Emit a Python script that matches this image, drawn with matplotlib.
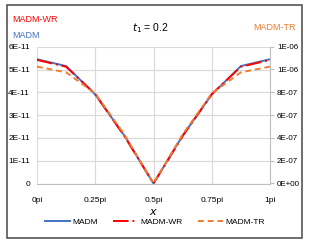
import matplotlib
matplotlib.use("Agg")
from matplotlib import pyplot as plt
from matplotlib.patches import Rectangle
from matplotlib.ticker import FuncFormatter

# x in units of pi
x_pos = [0, 0.125, 0.25, 0.375, 0.5, 0.625, 0.75, 0.875, 1.0]
madm = [5.45e-11, 5.15e-11, 3.9e-11, 2.1e-11, 0, 2.1e-11, 3.9e-11, 5.15e-11, 5.45e-11]
madm_wr = [5.42e-11, 5.12e-11, 3.92e-11, 2.08e-11, 0, 2.08e-11, 3.92e-11, 5.12e-11, 5.42e-11]
madm_tr = [1.025e-6, 0.975e-6, 0.79e-6, 0.43e-6, 0, 0.43e-6, 0.79e-6, 0.975e-6, 1.025e-6]
x_ticks = [0, 0.25, 0.5, 0.75, 1.0]
x_labels = ["0pi", "0.25pi", "0.5pi", "0.75pi", "1pi"]

BLUE = "#4472C4"
RED = "#FF0000"
ORANGE = "#ED7D31"

plt.rcParams["font.family"] = ["Liberation Sans", "DejaVu Sans"]
plt.rcParams["font.size"] = 6

fig = plt.figure(figsize=(3.10, 2.46), dpi=100)
fig.patches.append(Rectangle((7 / 310, 1 - 238 / 246), 295 / 310, 233 / 246,
                             transform=fig.transFigure, fill=False,
                             edgecolor="#555555", linewidth=1.2))

ax = fig.add_axes([37 / 310, 1 - 183.5 / 246, 233 / 310, 136.8 / 246])
ax2 = ax.twinx()

l1, = ax.plot(x_pos, madm, color=BLUE, lw=1.4, label="MADM")
l2, = ax.plot(x_pos, madm_wr, color=RED, lw=1.4, dashes=(8, 2, 1, 2), label="MADM-WR")
l3, = ax2.plot(x_pos, madm_tr, color=ORANGE, lw=1.4, dashes=(3, 2), label="MADM-TR")

ax.set_xlim(0, 1)
ax.set_ylim(0, 6e-11)
ax.set_yticks([i * 1e-11 for i in range(7)])
ax2.set_ylim(0, 1.2e-6)
ax2.set_yticks([i * 2e-7 for i in range(7)])
ax.set_xticks(x_ticks)
ax.set_xticklabels(x_labels)

ax.yaxis.set_major_formatter(FuncFormatter(lambda v, p: "0" if v == 0 else "{:.0E}".format(v)))
ax2.yaxis.set_major_formatter(FuncFormatter(lambda v, p: "{:.0E}".format(v)))

ax.grid(True, color="#D9D9D9", lw=0.8)
for a in (ax, ax2):
    for s in a.spines.values():
        s.set_visible(False)
ax.spines["bottom"].set_visible(True)
ax.spines["bottom"].set_color("#BFBFBF")
ax2.spines["right"].set_visible(True)
ax2.spines["right"].set_color("#BFBFBF")

ax.tick_params(axis="y", length=0, pad=5, labelsize=6)
ax.tick_params(axis="x", length=0, pad=10, labelsize=6)
ax2.tick_params(axis="y", length=3, color="#BFBFBF", pad=2, labelsize=5.8)

fig.text(153 / 310, 1 - 212 / 246, "$x$", ha="center", va="center", fontsize=8, family="DejaVu Serif")
fig.text(150 / 310, 1 - 28 / 246, "$t_1$ = 0.2", ha="center", va="center", fontsize=7.5)
fig.text(12 / 310, 1 - 19 / 246, "MADM-WR", color=RED, ha="left", va="center", fontsize=6.5)
fig.text(12 / 310, 1 - 35 / 246, "MADM", color=BLUE, ha="left", va="center", fontsize=6.5)
fig.text(296 / 310, 1 - 27 / 246, "MADM-TR", color=ORANGE, ha="right", va="center", fontsize=6.5)

fig.legend([l1, l2, l3], ["MADM", "MADM-WR", "MADM-TR"], loc="center",
           bbox_to_anchor=(155 / 310, 1 - 222 / 246), ncol=3, frameon=False,
           fontsize=6, handlelength=3, columnspacing=1.8, handletextpad=0.3)

fig.savefig("out.png", dpi=100)
